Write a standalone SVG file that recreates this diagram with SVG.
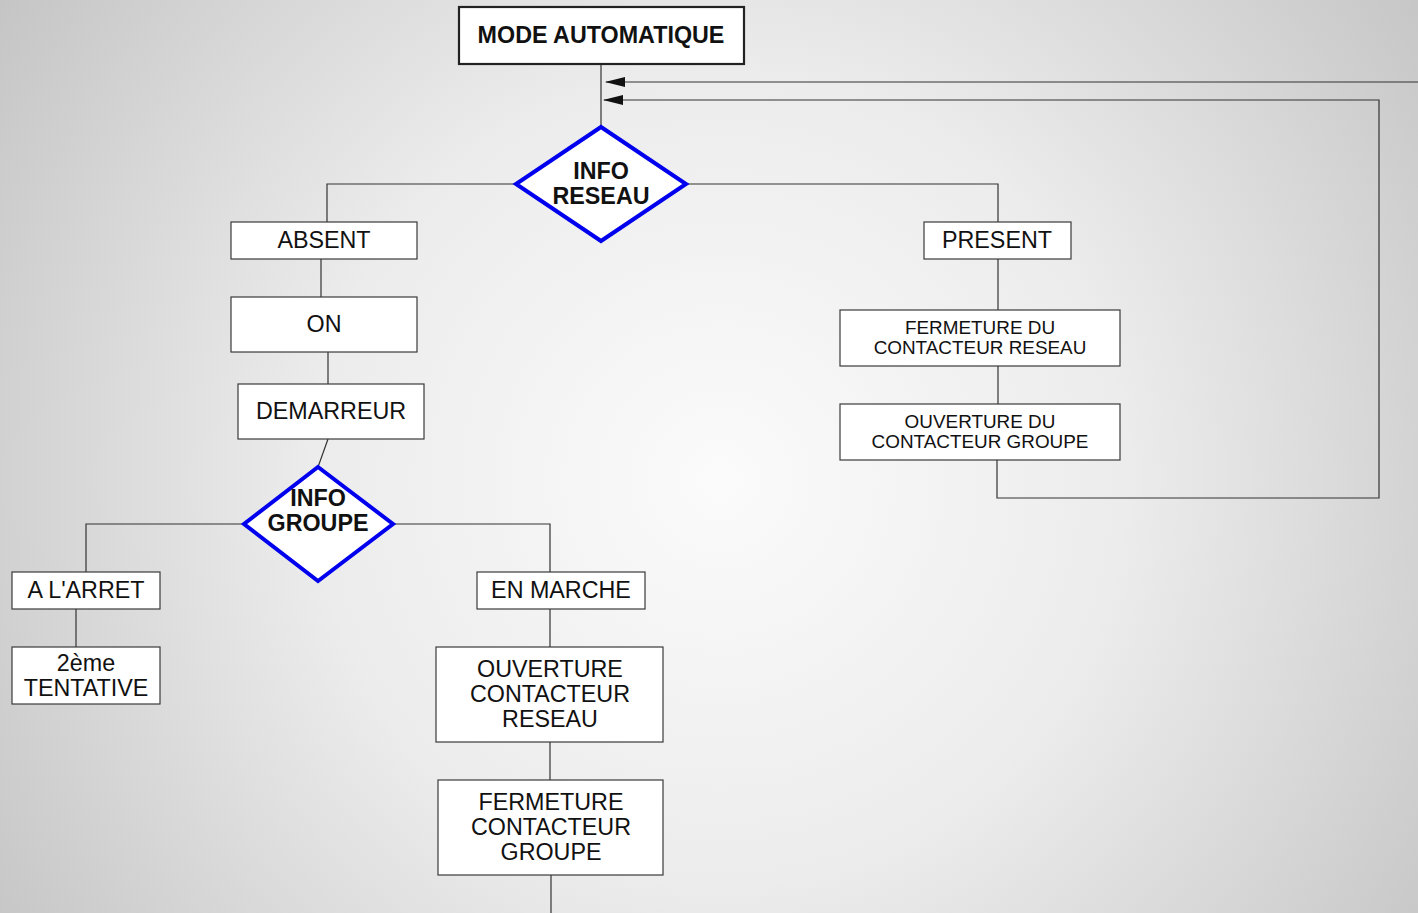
<svg xmlns="http://www.w3.org/2000/svg" width="1418" height="913" viewBox="0 0 1418 913">
  <style>
    .box { fill: #ffffff; stroke: #3a3a3a; stroke-width: 1.2; }
    .title { fill: #ffffff; stroke: #222222; stroke-width: 2.2; }
    .dec { fill: #ffffff; stroke: #0000ee; stroke-width: 4; stroke-linejoin: miter; }
    .wire { fill: none; stroke: #333333; stroke-width: 1.2; }
    .t { font-family: "Liberation Sans", Arial, sans-serif; font-size: 23.3px; fill: #111111; text-anchor: middle; dominant-baseline: central; }
    .b { font-weight: bold; }
    .s { font-size: 18.9px; }
  </style>
  <defs>
    <radialGradient id="bg" cx="720" cy="480" r="900" gradientUnits="userSpaceOnUse">
      <stop offset="0" stop-color="#fbfbfb"/>
      <stop offset="0.45" stop-color="#ececec"/>
      <stop offset="1" stop-color="#c2c2c2"/>
    </radialGradient>
    <marker id="arrow" viewBox="0 0 20 10" refX="19" refY="5" markerWidth="20" markerHeight="10" markerUnits="userSpaceOnUse" orient="auto">
      <path d="M0,0 L20,5 L0,10 Z" fill="#111111"/>
    </marker>
  </defs>

  <rect width="1418" height="913" fill="url(#bg)"/>

  <g id="connectors">
    <!-- trunk from title to first decision -->
    <path class="wire" d="M601,64 V127"/>
    <!-- return loops -->
    <path class="wire" d="M1418,82 H606" marker-end="url(#arrow)"/>
    <path class="wire" d="M997,460 V498 H1379 V100 H604" marker-end="url(#arrow)"/>
    <!-- INFO RESEAU branches -->
    <path class="wire" d="M516,184 H327 V222"/>
    <path class="wire" d="M686,184 H998 V222"/>
    <!-- absent branch -->
    <path class="wire" d="M321,259 V297"/>
    <path class="wire" d="M328,352 V384"/>
    <path class="wire" d="M328,439 L318,467"/>
    <!-- present branch -->
    <path class="wire" d="M998,259 V310"/>
    <path class="wire" d="M998,366 V404"/>
    <!-- INFO GROUPE branches -->
    <path class="wire" d="M244,524 H86 V572"/>
    <path class="wire" d="M393,524 H550 V572"/>
    <path class="wire" d="M76,609 V647"/>
    <path class="wire" d="M550,609 V647"/>
    <path class="wire" d="M550,742 V780"/>
    <path class="wire" d="M551,875 V913"/>
  </g>

  <g id="mode-automatique">
    <rect class="title" x="459" y="7" width="285" height="57"/>
    <text class="t b" x="601" y="35">MODE AUTOMATIQUE</text>
  </g>

  <g id="info-reseau">
    <polygon class="dec" points="601,127 686,184 601,241 516,184"/>
    <text class="t b" x="601" y="171">INFO</text>
    <text class="t b" x="601" y="196">RESEAU</text>
  </g>

  <g id="absent">
    <rect class="box" x="231" y="222" width="186" height="37"/>
    <text class="t" x="324" y="240">ABSENT</text>
  </g>

  <g id="on">
    <rect class="box" x="231" y="297" width="186" height="55"/>
    <text class="t" x="324" y="324">ON</text>
  </g>

  <g id="demarreur">
    <rect class="box" x="238" y="384" width="186" height="55"/>
    <text class="t" x="331" y="411">DEMARREUR</text>
  </g>

  <g id="info-groupe">
    <polygon class="dec" points="318,467 393,524 318,581 244,524"/>
    <text class="t b" x="318" y="498">INFO</text>
    <text class="t b" x="318" y="523">GROUPE</text>
  </g>

  <g id="a-l-arret">
    <rect class="box" x="12" y="572" width="148" height="37"/>
    <text class="t" x="86" y="590">A L'ARRET</text>
  </g>

  <g id="deuxieme-tentative">
    <rect class="box" x="12" y="647" width="148" height="57"/>
    <text class="t" x="86" y="663">2ème</text>
    <text class="t" x="86" y="688">TENTATIVE</text>
  </g>

  <g id="en-marche">
    <rect class="box" x="477" y="572" width="168" height="37"/>
    <text class="t" x="561" y="590">EN MARCHE</text>
  </g>

  <g id="ouverture-contacteur-reseau">
    <rect class="box" x="436" y="647" width="227" height="95"/>
    <text class="t" x="550" y="669">OUVERTURE</text>
    <text class="t" x="550" y="694">CONTACTEUR</text>
    <text class="t" x="550" y="719">RESEAU</text>
  </g>

  <g id="fermeture-contacteur-groupe">
    <rect class="box" x="438" y="780" width="225" height="95"/>
    <text class="t" x="551" y="802">FERMETURE</text>
    <text class="t" x="551" y="827">CONTACTEUR</text>
    <text class="t" x="551" y="852">GROUPE</text>
  </g>

  <g id="present">
    <rect class="box" x="924" y="222" width="147" height="37"/>
    <text class="t" x="997" y="240">PRESENT</text>
  </g>

  <g id="fermeture-du-contacteur-reseau">
    <rect class="box" x="840" y="310" width="280" height="56"/>
    <text class="t s" x="980" y="327">FERMETURE DU</text>
    <text class="t s" x="980" y="347">CONTACTEUR RESEAU</text>
  </g>

  <g id="ouverture-du-contacteur-groupe">
    <rect class="box" x="840" y="404" width="280" height="56"/>
    <text class="t s" x="980" y="421">OUVERTURE DU</text>
    <text class="t s" x="980" y="441">CONTACTEUR GROUPE</text>
  </g>
</svg>
